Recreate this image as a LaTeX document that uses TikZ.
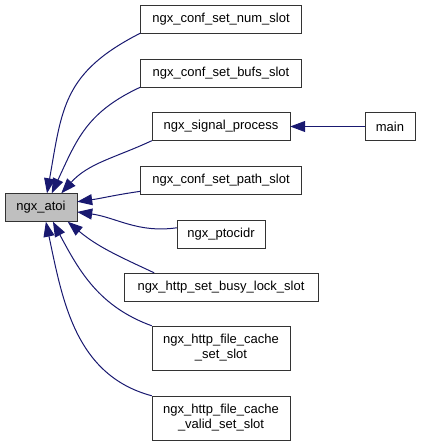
\documentclass[tikz,border=0pt]{standalone}
\usepackage{fontspec}
\setmainfont{Liberation Sans}
\usetikzlibrary{arrows.meta,positioning}
\definecolor{midnightblue}{HTML}{191970}

\begin{document}
\begin{tikzpicture}[x=1pt,y=1pt,node distance=54pt,on grid,
    fn/.style={draw=black!80,fill=white,minimum height=28pt,inner sep=2pt,
      font=\fontsize{13}{15}\selectfont,align=center},
    cur/.style={fn,fill=black!25},
    call/.style={draw=midnightblue,line width=1pt,
      -{Triangle[length=15pt,width=11pt,color=midnightblue]}}]
    \useasboundingbox (0,0) rectangle (421,-445);
        \node[cur,minimum width=72pt] (atoi) at (41,-207.5) {ngx\_atoi};
        \node[fn,minimum width=161pt] (num) at (221,-19) {ngx\_conf\_set\_num\_slot};
        \node[fn,minimum width=161pt] (bufs) [below=of num] {ngx\_conf\_set\_bufs\_slot};
        \node[fn,minimum width=138pt] (signal) [below=53.5pt of bufs] {ngx\_signal\_process};
        \node[fn,minimum width=50pt] (main) [right=169pt of signal] {main};
        \node[fn,minimum width=161pt] (path) [below=53.5pt of signal] {ngx\_conf\_set\_path\_slot};
        \node[fn,minimum width=88pt] (ptocidr) [below=of path] {ngx\_ptocidr};
        \node[fn,minimum width=194pt] (busy) [below=53pt of ptocidr] {ngx\_http\_set\_busy\_lock\_slot};
        \node[fn,minimum width=138pt,minimum height=44pt] (fcset) [below=61pt of busy] {ngx\_http\_file\_cache\\\_set\_slot};
        \node[fn,minimum width=138pt,minimum height=44pt] (valid) [below=70pt of fcset] {ngx\_http\_file\_cache\\\_valid\_set\_slot};
         \draw[call] (num.south west) to[out=207,in=80,looseness=1.2] (atoi.67);
         \draw[call] (bufs.south west) to[out=205,in=65,looseness=1.1] (atoi.53);
         \draw[call] (signal.south west) to[out=205,in=48] (atoi.35);
         \draw[call] (path.188) to[out=188,in=8] (atoi.9);
         \draw[call] (ptocidr.172) to[out=188,in=-8] (atoi.-7);
         \draw[call] (busy.168) to[out=155,in=-40] (atoi.-28);
         \draw[call] (fcset.north west) to[out=160,in=-62] (atoi.-50);
         \draw[call] (valid.north west) to[out=165,in=-78] (atoi.-71);
         \draw[call] (main) -- (signal);
     \end{tikzpicture}
\end{document}
